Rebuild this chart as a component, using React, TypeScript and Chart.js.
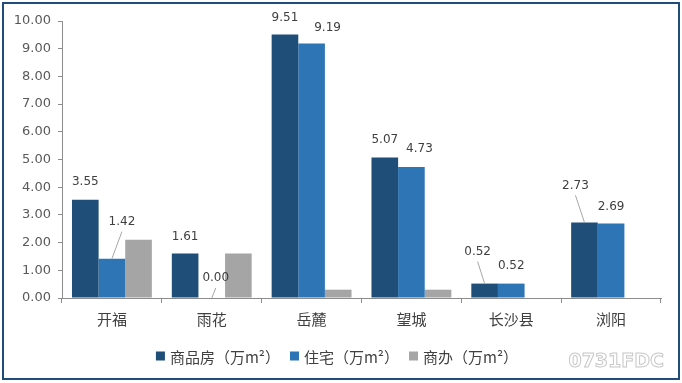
import React, { useEffect, useRef } from "react";
import { Chart, registerables } from "chart.js";

Chart.register(...registerables);

// ---- data ----
const categories = ["开福", "雨花", "岳麓", "望城", "长沙县", "浏阳"];
const seriesNames = ["商品房（万m²）", "住宅（万m²）", "商办（万m²）"];
const commercialHousing = [3.55, 1.61, 9.51, 5.07, 0.52, 2.73];
const residential = [1.42, 0.0, 9.19, 4.73, 0.52, 2.69];
const commercialOffice = [2.1, 1.61, 0.3, 0.3, 0, 0];
const yMin = 0;
const yMax = 10;
const yStep = 1;

// ---- styles ----
const colors = ["#1F4E79", "#2E75B6", "#A5A5A5"];
// label offset from bar top-centre: [dx, dy, leaderLine]
const labelOffsets: [number, number, boolean][][] = [
  [[0, -18, false], [0, -17, false], [0, -17, false], [0, -18, false], [-7, -32, true], [-9, -37, true]],
  [[10, -37, true], [4, -20, true], [16, -16, false], [8, -18, false], [0, -18, false], [0, -17, false]],
];

const labelPlugin = {
  id: "customLabels",
  afterDatasetsDraw(chart: any) {
    const ctx = chart.ctx;
    ctx.save();
    ctx.font = "12px 'DejaVu Sans'";
    ctx.fillStyle = "#404040";
    ctx.textAlign = "center";
    ctx.textBaseline = "middle";
    [0, 1].forEach((di) => {
      const meta = chart.getDatasetMeta(di);
      const values = chart.data.datasets[di].data as number[];
      meta.data.forEach((bar: any, i: number) => {
        const [dx, dy, leader] = labelOffsets[di][i];
        const lx = bar.x + dx;
        const ly = bar.y + dy;
        ctx.fillText(values[i].toFixed(2), lx, ly);
        if (leader) {
          ctx.strokeStyle = "#A6A6A6";
          ctx.lineWidth = 1;
          ctx.beginPath();
          ctx.moveTo(lx, ly + 10);
          ctx.lineTo(bar.x, bar.y);
          ctx.stroke();
        }
      });
    });
    ctx.restore();
  },
  afterDraw(chart: any) {
    const ctx = chart.ctx;
    ctx.save();
    // legend
    ctx.font = "15px 'Noto Sans CJK SC'";
    ctx.textBaseline = "middle";
    ctx.textAlign = "left";
    const box = 9;
    const gap = 5;
    const itemGap = 10;
    const widths = seriesNames.map((n) => ctx.measureText(n).width);
    const total = widths.reduce((a, w) => a + box + gap + w, 0) + itemGap * (seriesNames.length - 1);
    let x = 337 - total / 2;
    const cy = 356;
    seriesNames.forEach((n, i) => {
      ctx.fillStyle = colors[i];
      ctx.fillRect(x, cy - box / 2, box, box);
      x += box + gap;
      ctx.fillStyle = "#404040";
      ctx.fillText(n, x, cy + 1);
      x += widths[i] + itemGap;
    });
    // watermark
    ctx.font = "bold 19px 'DejaVu Sans'";
    ctx.textAlign = "right";
    ctx.lineWidth = 1;
    ctx.strokeStyle = "#C8C8C8";
    ctx.fillStyle = "#FFFFFF";
    ctx.fillText("0731FDC", 664, 362);
    ctx.strokeText("0731FDC", 664, 362);
    ctx.restore();
  },
};

export default function App() {
  const ref = useRef<HTMLCanvasElement>(null);
  useEffect(() => {
    if (!ref.current) return;
    const chart = new Chart(ref.current, {
      type: "bar",
      data: {
        labels: categories,
        datasets: [
          { label: seriesNames[0], data: commercialHousing, backgroundColor: colors[0] },
          { label: seriesNames[1], data: residential, backgroundColor: colors[1] },
          { label: seriesNames[2], data: commercialOffice, backgroundColor: colors[2] },
        ],
      },
      options: {
        animation: false,
        responsive: false,
        devicePixelRatio: 1,
        layout: { padding: { left: 0, top: 21, right: 21, bottom: 45 } },
        datasets: { bar: { categoryPercentage: 0.8, barPercentage: 1.0 } },
        plugins: { legend: { display: false }, tooltip: { enabled: false } },
        scales: {
          x: {
            grid: { offset: true, drawOnChartArea: false, drawTicks: true, tickLength: 5, color: "#8C8C8C" },
            border: { color: "#8C8C8C" },
            ticks: { font: { family: "'Noto Sans CJK SC'", size: 15 }, color: "#404040", padding: 7 },
            afterFit: (s: any) => { s.height = 40; },
          },
          y: {
            min: yMin,
            max: yMax,
            grid: { drawOnChartArea: false, drawTicks: true, tickLength: 4, color: "#8C8C8C" },
            border: { color: "#8C8C8C" },
            ticks: {
              stepSize: yStep,
              font: { family: "'DejaVu Sans'", size: 13 },
              color: "#595959",
              padding: 7,
              callback: (v: any) => Number(v).toFixed(2),
            },
            afterFit: (s: any) => { s.width = 62; },
          },
        },
      },
      plugins: [labelPlugin],
    });
    return () => chart.destroy();
  }, []);
  return (
    <div style={{ position: "absolute", left: 0, top: 0, width: 682, height: 383, background: "#fff" }}>
      <canvas ref={ref} width={682} height={383} style={{ width: 682, height: 383, display: "block" }} />
      <div
        style={{
          position: "absolute",
          left: 2,
          top: 2,
          width: 678,
          height: 378,
          border: "2px solid #1F4E79",
          boxSizing: "border-box",
          pointerEvents: "none",
        }}
      />
    </div>
  );
}
